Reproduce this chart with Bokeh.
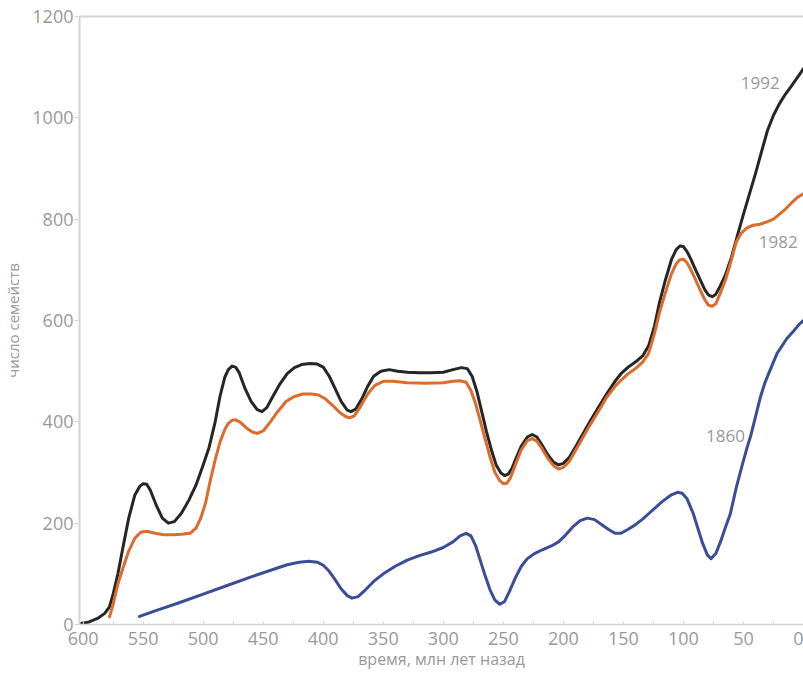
from bokeh.plotting import figure
from bokeh.models import Range1d, FixedTicker, LinearAxis, ColumnDataSource
from bokeh.core.properties import value
from bokeh.embed import file_html
from bokeh.resources import INLINE

# Number of marine animal families through time (millions of years ago)
age_1992 = [602, 595, 588, 582, 578, 575, 571, 567, 562, 557, 553, 550, 547, 544, 539, 534, 529, 524,
            518, 512, 506, 500, 495, 490, 486, 482, 479, 476, 473, 470, 465, 460, 455, 451, 447, 442,
            436, 430, 424, 418, 411, 405, 400, 395, 390, 385, 380, 377, 373, 368, 363, 358, 352,
            345, 338, 330, 320, 310, 300, 292, 285, 280, 276, 272, 268, 264, 260, 256, 252, 249, 246,
            243, 240, 235, 230, 226, 222, 218, 213, 208, 204, 200, 195, 190, 184, 178, 171, 164,
            157, 152, 146, 140, 134, 129, 124, 120, 115, 110, 106, 103, 100, 97, 94, 91, 86, 82, 79,
            76, 73, 70, 65, 60, 55, 50, 45, 40, 35, 30, 25, 20, 15, 10, 5, 0]
fam_1992 = [2, 5, 12, 22, 35, 60, 100, 150, 210, 255, 272, 278, 277, 265, 235, 210, 200, 203,
            220, 245, 275, 315, 350, 400, 450, 488, 503, 510, 508, 497, 465, 440, 424, 420, 428, 450,
            475, 495, 507, 513, 515, 514, 508, 490, 465, 440, 423, 420, 425, 445, 470, 490, 500,
            503, 500, 498, 497, 497, 498, 503, 507, 505, 490, 460, 420, 380, 345, 315, 299, 294, 297,
            307, 325, 352, 370, 375, 370, 355, 335, 320, 315, 318, 330, 350, 375, 400, 428, 455,
            480, 495, 508, 518, 530, 550, 590, 635, 680, 720, 740, 747, 746, 736, 722, 706, 680, 660, 650,
            647, 652, 665, 690, 725, 768, 810, 850, 890, 933, 975, 1005, 1028, 1047, 1063, 1080, 1097]

age_1982 = [578, 575, 571, 567, 562, 557, 552, 547, 540, 533, 525, 518, 511, 506, 502, 498, 494,
            490, 486, 482, 479, 476, 473, 469, 464, 459, 455, 450, 444, 438, 431, 424, 417, 410, 404,
            398, 392, 386, 381, 378, 374, 369, 363, 357, 350, 342, 330, 315, 300, 292, 286, 281,
            277, 273, 269, 265, 261, 257, 253, 250, 247, 244, 240, 235, 230, 226, 222, 218, 213, 208,
            204, 200, 195, 190, 184, 178, 171, 164, 157, 152, 146, 140, 134, 129, 124, 120, 115,
            110, 106, 103, 100, 97, 94, 91, 86, 82, 79, 76, 73, 70, 65, 60, 56, 52, 47, 42, 36, 30, 25, 20,
            15, 10, 5, 0]
fam_1982 = [15, 40, 80, 110, 145, 170, 182, 184, 180, 177, 177, 178, 180, 190, 210, 240, 285,
            325, 360, 385, 397, 403, 404, 399, 388, 380, 377, 382, 400, 420, 440, 450, 455, 455, 453,
            445, 432, 418, 410, 408, 412, 430, 455, 472, 480, 480, 477, 476, 477, 480, 481, 478,
            462, 435, 400, 365, 330, 300, 284, 278, 279, 290, 315, 345, 363, 367, 362, 348, 328, 313,
            307, 310, 322, 343, 368, 393, 420, 448, 470, 482, 495, 505, 518, 535, 575, 615, 655,
            692, 712, 720, 721, 714, 701, 686, 660, 640, 630, 628, 633, 650, 680, 720, 755, 772, 783, 788, 790,
            795, 800, 810, 820, 832, 843, 850]

age_1860 = [553, 540, 520, 500, 480, 460, 440, 430, 420, 412, 405, 400, 395, 390, 385, 380, 376,
            371, 365, 358, 350, 340, 330, 320, 310, 300, 292, 286, 281, 277, 273, 269, 265, 261,
            257, 253, 249, 245, 240, 235, 230, 224, 218, 210, 204, 198, 192, 186, 180, 174, 168,
            162, 157, 152, 146, 140, 134, 126, 118, 110, 105, 101, 97, 92, 88, 84, 80, 77, 73,
            69, 65, 61, 56, 51, 47, 44, 40, 36, 32, 28, 22, 14, 8, 3, 0]
fam_1860 = [16, 27, 43, 60, 77, 94, 110, 118, 123, 125, 123, 117, 105, 88, 70, 57, 52,
            55, 68, 85, 100, 115, 127, 136, 143, 152, 163, 175, 180, 175, 155, 125, 95, 68,
            48, 40, 45, 65, 92, 115, 130, 140, 147, 155, 163, 177, 193, 205, 210, 207, 197,
            187, 180, 180, 188, 197, 208, 225, 242, 256, 261, 259, 248, 220, 190, 160, 137, 130, 140,
            164, 192, 218, 270, 315, 349, 372, 410, 448, 478, 501, 535, 564, 580, 594, 600]

series_names = ["1992", "1982", "1860"]
series_colors = ["#262626", "#dc6c2c", "#3b4d96"]
# label anchor points (age, families) for the series names
label_age = [36, 21, 65]
label_fam = [1068, 754, 373]

x_ticks = list(range(0, 601, 50))
y_ticks = list(range(0, 1201, 200))

FONT = "Open Sans"
TXT = "#999999"
AXIS = "#d4d4d4"

p = figure(width=803, height=673, output_backend="svg", toolbar_location=None,
           x_range=Range1d(603, 0), y_range=Range1d(0, 1200),
           min_border_left=78, min_border_right=0, min_border_top=16, min_border_bottom=49,
           background_fill_color="white", border_fill_color="white")
p.outline_line_color = None
p.grid.visible = False

ages = [age_1992, age_1982, age_1860]
fams = [fam_1992, fam_1982, fam_1860]
for name, color, a, f in zip(series_names, series_colors, ages, fams):
    src = ColumnDataSource(dict(age=a, fam=f))
    p.line("age", "fam", source=src, line_color=color, line_width=3,
           line_join="round", line_cap="round")

p.text(x=label_age, y=label_fam, text=series_names, text_color=TXT,
       text_font=value(FONT), text_font_size="17px",
       text_align="center", text_baseline="middle")

# x axis
xa = p.xaxis[0]
xa.ticker = FixedTicker(ticks=x_ticks, minor_ticks=[t + 25 for t in x_ticks[:-1]])
xa.axis_line_color = AXIS
xa.axis_line_width = 1.5
xa.major_tick_line_color = AXIS
xa.major_tick_in = 3
xa.major_tick_out = 0
xa.minor_tick_line_color = AXIS
xa.minor_tick_in = 3
xa.minor_tick_out = 0
xa.major_label_text_font = FONT
xa.major_label_text_font_size = "18px"
xa.major_label_text_color = TXT
xa.major_label_standoff = 7
xa.axis_label = "время, млн лет назад"
xa.axis_label_text_font = FONT
xa.axis_label_text_font_size = "16px"
xa.axis_label_text_font_style = "normal"
xa.axis_label_text_color = TXT
xa.axis_label_standoff = 0

# y axis
ya = p.yaxis[0]
ya.ticker = FixedTicker(ticks=y_ticks, minor_ticks=[])
ya.axis_line_color = AXIS
ya.axis_line_width = 2
ya.major_tick_line_color = AXIS
ya.major_tick_in = 0
ya.major_tick_out = 5
ya.major_label_text_font = FONT
ya.major_label_text_font_size = "18px"
ya.major_label_text_color = TXT
ya.major_label_standoff = 1
ya.axis_label = "число семейств"
ya.axis_label_text_font = FONT
ya.axis_label_text_font_size = "15px"
ya.axis_label_text_font_style = "normal"
ya.axis_label_text_color = TXT
ya.axis_label_standoff = 6

# top frame line
top = LinearAxis(ticker=FixedTicker(ticks=[]), axis_line_color=AXIS, axis_line_width=2,
                 major_tick_line_color=None, minor_tick_line_color=None,
                 major_label_text_font_size="0px")
p.add_layout(top, "above")

open("out.html", "w").write(file_html(p, INLINE))
